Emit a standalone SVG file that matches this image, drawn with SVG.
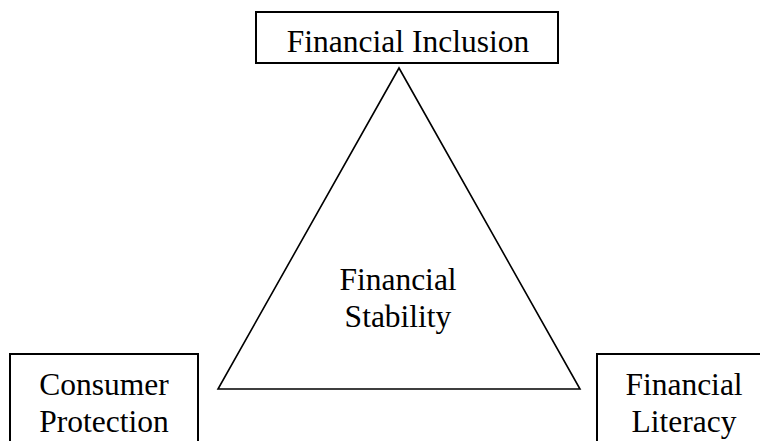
<svg xmlns="http://www.w3.org/2000/svg" width="760" height="441" viewBox="0 0 760 441">
<style>
.box{fill:#fff;stroke:#000;stroke-width:2}
.tri{fill:none;stroke:#000;stroke-width:1.6;stroke-linejoin:miter}
text{font-family:'Liberation Serif','Times New Roman',serif;font-size:31.5px;fill:#000;text-anchor:middle}
</style>
<rect width="760" height="441" fill="#fff"/>
<g id="connectors">
<polygon class="tri" points="399,68 218,389 580,389"/>
</g>
<g id="stability">
<text x="398" y="290">Financial</text>
<text x="398" y="327">Stability</text>
</g>
<g id="inclusion">
<rect class="box" x="256" y="12" width="302" height="51"/>
<text x="408" y="52">Financial Inclusion</text>
</g>
<g id="protection">
<rect class="box" x="10" y="354" width="188" height="100"/>
<text x="104" y="395">Consumer</text>
<text x="104" y="432">Protection</text>
</g>
<g id="literacy">
<rect class="box" x="597" y="354" width="200" height="100"/>
<text x="684" y="395">Financial</text>
<text x="684" y="432">Literacy</text>
</g>
</svg>
